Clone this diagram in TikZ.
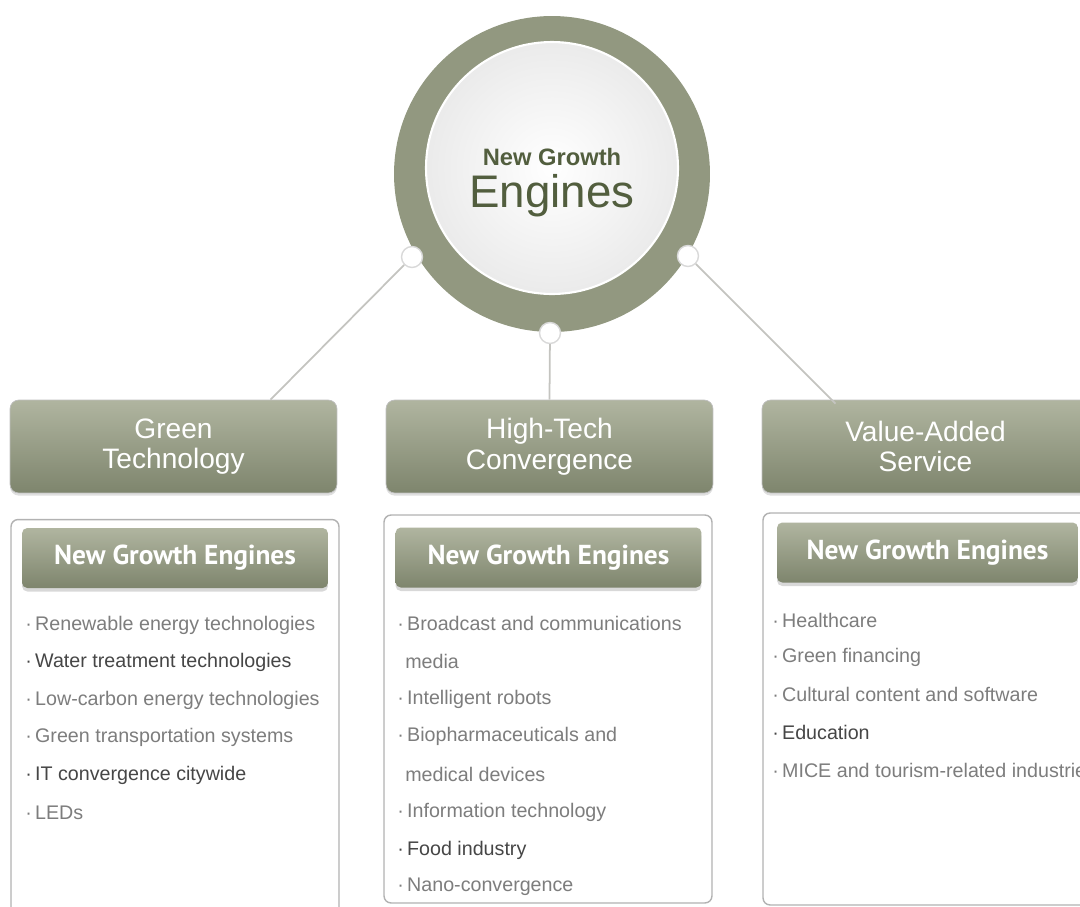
\documentclass[tikz,border=0pt]{standalone}
\usepackage{fontspec}
\setmainfont{Liberation Sans}
\newfontfamily\hdfont{PT Sans}
\usepackage{xcolor}
\definecolor{ogrey}{RGB}{146,152,128}
\definecolor{otop}{RGB}{176,181,160}
\definecolor{obot}{RGB}{126,133,109}
\definecolor{ltxt}{RGB}{125,125,125}
\definecolor{dtxt}{RGB}{70,70,70}
\definecolor{ctxt}{RGB}{82,94,62}
\definecolor{lline}{RGB}{196,196,192}
\usetikzlibrary{positioning,calc,shadows}

\begin{document}
\begin{tikzpicture}[
  x=0.02cm, y=-0.02cm,
  ring/.style={circle,fill=ogrey,minimum size=6.32cm,inner sep=0pt},
  core/.style={circle,inner color=white,outer color=black!8,draw=white,line width=1.2pt,minimum size=5.04cm,inner sep=0pt},
  joint/.style={circle,fill=white,draw=black!15,line width=0.8pt,minimum size=0.42cm,inner sep=0pt},
  catbox/.style={rectangle,rounded corners=5pt,top color=otop,bottom color=obot,draw=black!25,
    minimum width=6.54cm,minimum height=1.86cm,align=center,text=white,
    font=\fontsize{16}{17.5}\selectfont,drop shadow={opacity=0.25,shadow xshift=0pt,shadow yshift=-1.5pt}},
  listbox/.style={rectangle,rounded corners=4pt,draw=black!30,fill=white,line width=0.8pt,minimum width=6.56cm},
  headbox/.style={rectangle,rounded corners=3pt,top color=otop,bottom color=obot,
    minimum width=6.12cm,minimum height=1.2cm,text=white,font=\hdfont\bfseries\fontsize{15.6}{17}\selectfont,
    drop shadow={opacity=0.3,shadow xshift=0pt,shadow yshift=-2pt}},
  item/.style={anchor=west,inner sep=0pt,text=ltxt,font=\fontsize{11.2}{12}\selectfont},
  ditem/.style={item,text=dtxt},
  link/.style={lline,line width=1pt}
]
  \useasboundingbox (0,0) rectangle (1080,907);

  % Hub
  \node[ring] (hub) at (552,174) {};
  \node[core] (core) at (552,168) {};
  \node[inner sep=0pt,text=ctxt,font=\bfseries\fontsize{13.5}{15}\selectfont] (hubtop) at (552,157) {New Growth};
  \node[inner sep=0pt,text=ctxt,font=\fontsize{26}{26}\selectfont] (hubbot) at (552,196) {Engines};
  \node[joint] (jl) at (412,257) {};
  \node[joint] (jm) at (550,333) {};
  \node[joint] (jr) at (688,256) {};

  % Sectors
  \node[catbox] (green) at (173.5,446.5) {Green\\Technology};
  \node[catbox] (tech) at (549.5,446.5) {High-Tech\\Convergence};
  \node[catbox] (value) at (925.5,446.5) {Value-Added\\Service};

  % Links
  \draw[link] (jl) -- ($(green.north)+(97,0)$);
  \draw[link] (jm) -- (tech.north);
  \draw[link] (jr) -- ($(value.north)+(-90,4)$);

  % Lists
  \node[listbox,minimum height=8.1cm] (gl) at (175,722) {};
  \node[listbox,minimum height=7.76cm] (tl) at (548,709) {};
  \node[listbox,minimum height=7.84cm] (vl) at (927,709) {};

  \node[headbox] (gh) at (175,558) {New Growth Engines};
  \node[headbox] (th) at (548.5,557.5) {New Growth Engines};
  \node[headbox,minimum width=6.02cm] (vh) at (927.5,552.5) {New Growth Engines};

  % G: green technology
  \node[item] (g1) at (25,625) {·\,Renewable energy technologies};
  \node[ditem] (g2) at (25,662) {·\,Water treatment technologies};
  \node[item] (g3) at (25,700) {·\,Low-carbon energy technologies};
  \node[item] (g4) at (25,737) {·\,Green transportation systems};
  \node[ditem] (g5) at (25,775) {·\,IT convergence citywide};
  \node[item] (g6) at (25,813) {·\,LEDs};

  % T: high-tech convergence
  \node[item] (t1) at (397,623) {·\,Broadcast and communications};
  \node[item] (t2) at (405,661) {media};
  \node[item] (t3) at (397,699) {·\,Intelligent robots};
  \node[item] (t4) at (397,736) {·\,Biopharmaceuticals and};
  \node[item] (t5) at (405,774) {medical devices};
  \node[item] (t6) at (397,812) {·\,Information technology};
  \node[ditem] (t7) at (397,850) {·\,Food industry};
  \node[item] (t8) at (397,887) {·\,Nano-convergence};

  % V: value-added service
  \node[item] (v1) at (772,620) {·\,Healthcare};
  \node[item] (v2) at (772,657) {·\,Green financing};
  \node[item] (v3) at (772,694) {·\,Cultural content and software};
  \node[ditem] (v4) at (772,732) {·\,Education};
  \node[item] (v5) at (772,770) {·\,MICE and tourism-related industries};
\end{tikzpicture}
\end{document}
